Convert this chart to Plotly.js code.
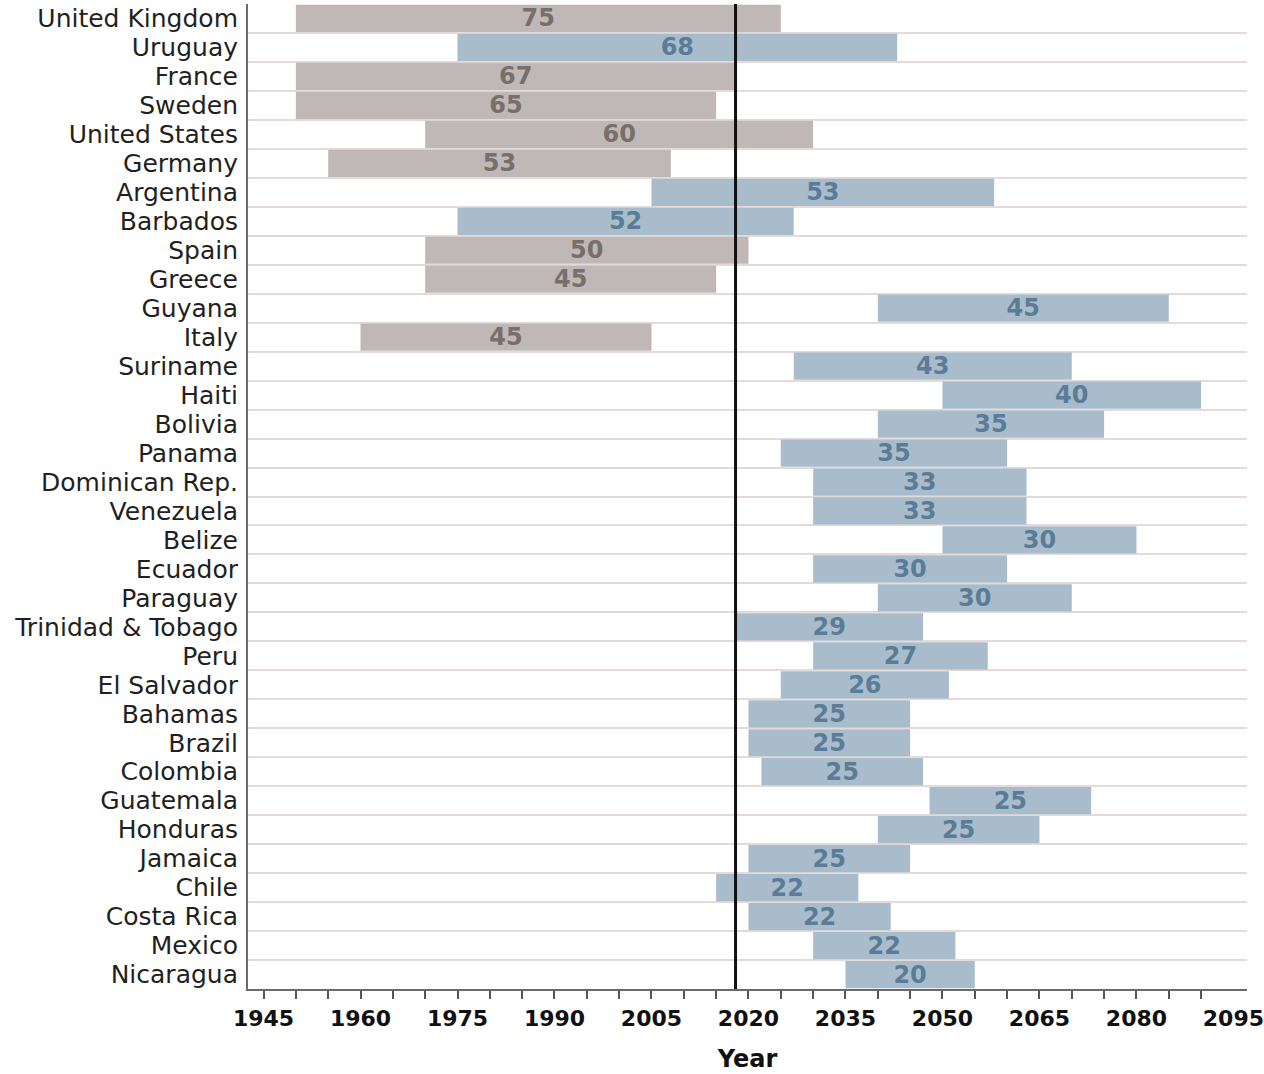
<!DOCTYPE html>
<html>
<head>
<meta charset="utf-8">
<script src="https://cdn.plot.ly/plotly-3.0.1.min.js"></script>
<style>
  html, body { margin: 0; padding: 0; background: #ffffff; }
  #chart { width: 1264px; height: 1074px; }
</style>
</head>
<body>
<div id="chart"></div>
<script>
// ---- Data ----
const countries = [
  "United Kingdom", "Uruguay", "France", "Sweden", "United States", "Germany",
  "Argentina", "Barbados", "Spain", "Greece", "Guyana", "Italy", "Suriname",
  "Haiti", "Bolivia", "Panama", "Dominican Rep.", "Venezuela", "Belize",
  "Ecuador", "Paraguay", "Trinidad & Tobago", "Peru", "El Salvador", "Bahamas",
  "Brazil", "Colombia", "Guatemala", "Honduras", "Jamaica", "Chile",
  "Costa Rica", "Mexico", "Nicaragua"
];
const startYear = [
  1950, 1975, 1950, 1950, 1970, 1955,
  2005, 1975, 1970, 1970, 2040, 1960, 2027,
  2050, 2040, 2025, 2030, 2030, 2050,
  2030, 2040, 2018, 2030, 2025, 2020,
  2020, 2022, 2048, 2040, 2020, 2015,
  2020, 2030, 2035
];
const endYear = [
  2025, 2043, 2018, 2015, 2030, 2008,
  2058, 2027, 2020, 2015, 2085, 2005, 2070,
  2090, 2075, 2060, 2063, 2063, 2080,
  2060, 2070, 2047, 2057, 2051, 2045,
  2045, 2047, 2073, 2065, 2045, 2037,
  2042, 2052, 2055
];
const yearsLabel = [
  75, 68, 67, 65, 60, 53,
  53, 52, 50, 45, 45, 45, 43,
  40, 35, 35, 33, 33, 30,
  30, 30, 29, 27, 26, 25,
  25, 25, 25, 25, 25, 22,
  22, 22, 20
];
const group = [
  "dev", "lac", "dev", "dev", "dev", "dev",
  "lac", "lac", "dev", "dev", "lac", "dev", "lac",
  "lac", "lac", "lac", "lac", "lac", "lac",
  "lac", "lac", "lac", "lac", "lac", "lac",
  "lac", "lac", "lac", "lac", "lac", "lac",
  "lac", "lac", "lac"
];
const referenceYear = 2018;
const tickYears = [1945, 1960, 1975, 1990, 2005, 2020, 2035, 2050, 2065, 2080, 2095];
const minorTickYears = [1945, 1950, 1955, 1960, 1965, 1970, 1975, 1980, 1985, 1990,
  1995, 2000, 2005, 2010, 2015, 2020, 2025, 2030, 2035, 2040, 2045, 2050, 2055,
  2060, 2065, 2070, 2075, 2080, 2085, 2090];

// ---- Styles ----
const barColor = { dev: "#bfb8b6", lac: "#a9bccb" };
const textColor = { dev: "#786e6c", lac: "#5b7c97" };

const trace = {
  type: "bar",
  orientation: "h",
  y: countries,
  base: startYear,
  x: endYear.map((e, i) => e - startYear[i]),
  text: yearsLabel.map(String),
  textposition: "inside",
  insidetextanchor: "middle",
  textangle: 0,
  constraintext: "none",
  cliponaxis: false,
  textfont: {
    family: "DejaVu Sans",
    size: 24,
    weight: "bold",
    color: group.map(g => textColor[g])
  },
  marker: { color: group.map(g => barColor[g]), line: { width: 0 } },
  hoverinfo: "skip"
};

const layout = {
  width: 1264,
  height: 1074,
  margin: { l: 248, r: 17, t: 4, b: 85 },
  paper_bgcolor: "#ffffff",
  plot_bgcolor: "#ffffff",
  bargap: 0.06,
  showlegend: false,
  font: { family: "DejaVu Sans", color: "#231f20" },
  xaxis: {
    range: [1942.6, 2097.1],
    tickmode: "array",
    tickvals: tickYears,
    ticktext: tickYears.map(String),
    ticks: "",
    ticklabelstandoff: 9,
    ticklabeloverflow: "allow",
    tickfont: { family: "DejaVu Sans", size: 22, weight: "bold", color: "#111111" },
    minor: {
      tickmode: "array",
      tickvals: minorTickYears,
      ticks: "outside",
      ticklen: 8,
      tickwidth: 2,
      tickcolor: "#555555",
      showgrid: false
    },
    showgrid: false,
    zeroline: false,
    showline: true,
    linecolor: "#6a6a6a",
    linewidth: 2,
    title: {
      text: "Year",
      font: { family: "DejaVu Sans", size: 24, weight: "bold", color: "#111111" },
      standoff: 20
    }
  },
  yaxis: {
    type: "category",
    categoryorder: "array",
    categoryarray: countries,
    autorange: "reversed",
    tickmode: "array",
    tickvals: countries,
    ticktext: countries,
    tickson: "boundaries",
    ticks: "",
    ticklabelstandoff: 3,
    tickfont: { family: "DejaVu Sans", size: 25, color: "#231f20" },
    showgrid: true,
    gridcolor: "#e4dada",
    gridwidth: 2,
    zeroline: false,
    showline: true,
    linecolor: "#6a6a6a",
    linewidth: 2
  },
  shapes: [{
    type: "line",
    xref: "x", yref: "paper",
    x0: referenceYear, x1: referenceYear,
    y0: 0, y1: 1,
    line: { color: "#111111", width: 3 },
    layer: "above"
  }]
};

Plotly.newPlot("chart", [trace], layout, { displayModeBar: false, staticPlot: true });
</script>
</body>
</html>
